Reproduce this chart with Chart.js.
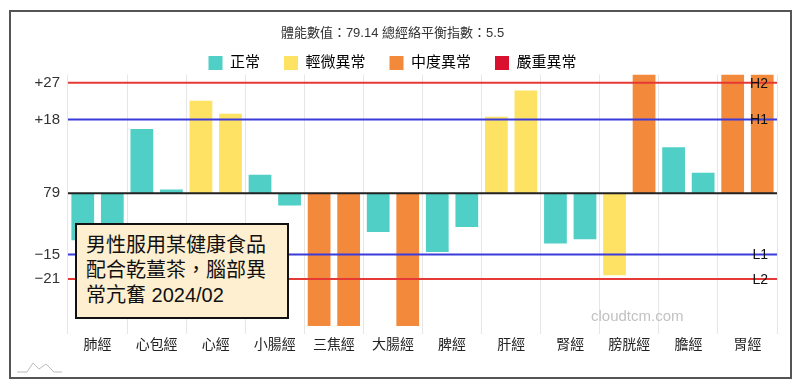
<!DOCTYPE html>
<html>
<head>
<meta charset="utf-8">
<script src="https://cdn.jsdelivr.net/npm/chart.js@4.4.1/dist/chart.umd.min.js"></script>
<style>
  body { margin: 0; background: #fff; font-family: 'Liberation Sans', 'Noto Sans CJK TC', sans-serif; }
  #wrap { position: relative; width: 800px; height: 389px; }
  #frame { position: absolute; left: 9px; top: 10px; width: 779px; height: 365px; border: 2px solid #555; pointer-events: none; }
  #note { position: absolute; left: 75px; top: 223px; width: 192px; height: 76px; padding: 8px 9px;
          background: #fdefcf; border: 2px solid #111; color: #111; font-size: 20px; line-height: 25px; white-space: pre; }
  #mark { position: absolute; left: 591px; top: 307px; font-size: 15px; color: #c2c2c2; }
  #logo { position: absolute; left: 0; top: 355px; }
</style>
</head>
<body>
<div id="wrap">
  <canvas id="chart" width="800" height="389"></canvas>
  <div id="frame"></div>
  <div id="note"></div>
  <div id="mark">cloudtcm.com</div>
  <svg id="logo" width="70" height="25"><polyline points="17,17 27,17 33,8 39,14 46,9 54,17 62,17" fill="none" stroke="#bbb" stroke-width="1"/></svg>
</div>
<script>
var titleText = '體能數值：79.14 總經絡平衡指數：5.5';
var categories = ['肺經','心包經','心經','小腸經','三焦經','大腸經','脾經','肝經','腎經','膀胱經','膽經','胃經'];
var leftValues  = [-11.5, 15.7, 22.6, 4.5, -32.5, -9.5, -14.4, 18.7, -12.3, -20.1, 11.2, 29];
var rightValues = [-11, 0.9, 19.4, -3.0, -32.5, -32.5, -8.3, 25.1, -11.3, 29, 5.0, 29];
// 0 正常, 1 輕微異常, 2 中度異常, 3 嚴重異常
var leftLevels  = [0, 0, 1, 0, 2, 0, 0, 1, 0, 1, 0, 2];
var rightLevels = [0, 0, 1, 0, 2, 2, 0, 1, 0, 2, 0, 2];
var levelNames = ['正常','輕微異常','中度異常','嚴重異常'];
var tickValues = [27, 18, 0, -15, -21];
var tickLabels = ['+27', '+18', '79', '−15', '−21'];
var limitValues = [27, 18, -15, -21];
var limitNames = ['H2', 'H1', 'L1', 'L2'];
var noteLines = ['男性服用某健康食品', '配合乾薑茶，腦部異', '常亢奮 2024/02'];

var LEVEL_COLORS = ['#4fcfc6', '#fde264', '#f3893b', '#d9112f'];
var LIMIT_COLORS = ['#e53935', '#3b3bdc', '#3b3bdc', '#e53935'];
var FONT = "'Liberation Sans', 'Noto Sans CJK TC', sans-serif";

document.getElementById('note').textContent = noteLines.join('\n');

function levelColors(levels) {
  return levels.map(function(l) { return LEVEL_COLORS[l]; });
}

// horizontal limit lines + zero line, drawn over the bars
var limitLines = {
  id: 'limitLines',
  afterDatasetsDraw: function(chart) {
    var ctx = chart.ctx, area = chart.chartArea, y = chart.scales.y;
    ctx.save();
    ctx.lineWidth = 2;
    ctx.strokeStyle = '#222';
    var y0 = y.getPixelForValue(0);
    ctx.beginPath(); ctx.moveTo(area.left, y0); ctx.lineTo(area.right, y0); ctx.stroke();
    limitValues.forEach(function(v, i) {
      var py = y.getPixelForValue(v);
      ctx.strokeStyle = LIMIT_COLORS[i];
      ctx.beginPath(); ctx.moveTo(area.left, py); ctx.lineTo(area.right, py); ctx.stroke();
      ctx.fillStyle = '#111';
      ctx.font = '14px ' + FONT;
      ctx.textAlign = 'right';
      ctx.textBaseline = 'middle';
      ctx.fillText(limitNames[i], area.right - 9, py + 1);
    });
    ctx.restore();
  }
};

// legend box is a little taller than the reference, trim it
var trimLegend = {
  id: 'trimLegend',
  afterInit: function(chart) {
    var lg = chart.legend, fit = lg.fit;
    lg.fit = function() { fit.call(this); this.height -= 6; };
  }
};

new Chart(document.getElementById('chart').getContext('2d'), {
  type: 'bar',
  data: {
    labels: categories,
    datasets: [
      { data: leftValues, backgroundColor: levelColors(leftLevels), barPercentage: 0.77, categoryPercentage: 1 },
      { data: rightValues, backgroundColor: levelColors(rightLevels), barPercentage: 0.77, categoryPercentage: 1 }
    ]
  },
  options: {
    responsive: false,
    animation: false,
    layout: { padding: { left: 8, right: 23, top: 0, bottom: 23 } },
    plugins: {
      title: {
        display: true, text: titleText, color: '#333',
        font: { family: FONT, size: 13, weight: 'normal' },
        padding: { top: 26, bottom: -10 }
      },
      legend: {
        labels: {
          boxWidth: 14, boxHeight: 14, padding: 24, color: '#333',
          font: { family: FONT, size: 15 },
          generateLabels: function() {
            return levelNames.map(function(n, i) {
              return { text: n, fillStyle: LEVEL_COLORS[i], strokeStyle: LEVEL_COLORS[i], lineWidth: 0, hidden: false, datasetIndex: 0 };
            });
          }
        }
      },
      tooltip: { enabled: false }
    },
    scales: {
      x: {
        grid: { color: '#e6e6e6', tickLength: 8 },
        border: { display: false },
        ticks: { color: '#222', padding: 3, font: { family: FONT, size: 14 } },
        afterFit: function(s) { s.height = 40; }
      },
      y: {
        min: -32.5, max: 29,
        grid: { display: false, drawTicks: false },
        border: { display: false },
        afterBuildTicks: function(s) { s.ticks = tickValues.map(function(v) { return { value: v }; }); },
        ticks: {
          color: '#333', padding: 8, font: { family: FONT, size: 15 },
          callback: function(v) { return tickLabels[tickValues.indexOf(v)]; }
        },
        afterFit: function(s) { s.width = 60; }
      }
    }
  },
  plugins: [limitLines, trimLegend]
});
</script>
</body>
</html>
